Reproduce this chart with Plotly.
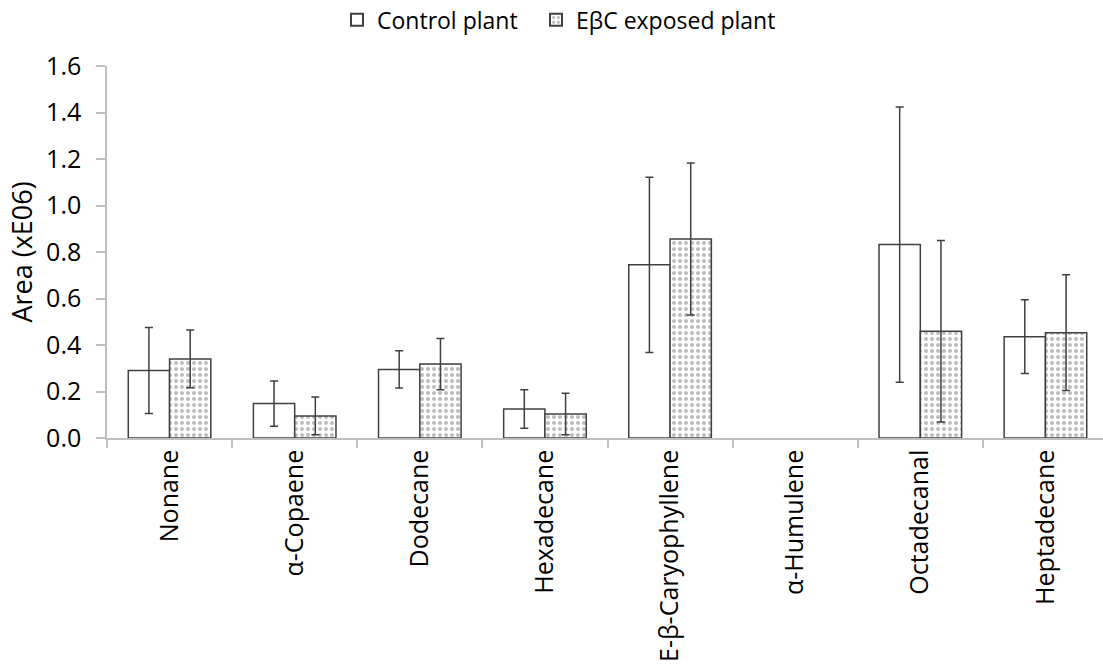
import plotly.graph_objects as go

# Volatile compounds and peak areas (x 10^6); α-Humulene was not detected
compounds = ["Nonane", "α-Copaene", "Dodecane", "Hexadecane",
             "E-β-Caryophyllene", "α-Humulene", "Octadecanal", "Heptadecane"]

control_mean = [0.29, 0.148, 0.295, 0.125, 0.745, None, 0.832, 0.436]
control_err = [0.185, 0.097, 0.08, 0.083, 0.377, None, 0.592, 0.159]

exposed_mean = [0.34, 0.095, 0.318, 0.103, 0.856, None, 0.459, 0.453]
exposed_err = [0.124, 0.081, 0.11, 0.089, 0.327, None, 0.39, 0.249]

series_names = ["Control plant", "EβC exposed plant"]
y_ticks = [0.0, 0.2, 0.4, 0.6, 0.8, 1.0, 1.2, 1.4, 1.6]

FONT = "Open Sans"
EDGE = "#404040"
AXIS = "#bfbfbf"
W, H = 1103, 664

fig = go.Figure()

fig.add_trace(go.Bar(
    name=series_names[0],
    x=compounds,
    y=control_mean,
    error_y=dict(type="data", array=control_err, visible=True,
                 color=EDGE, thickness=1.5, width=4),
    marker=dict(color="white", line=dict(color=EDGE, width=1.5)),
    legend="legend",
    showlegend=True,
))

fig.add_trace(go.Bar(
    name=series_names[1],
    x=compounds,
    y=exposed_mean,
    error_y=dict(type="data", array=exposed_err, visible=True,
                 color=EDGE, thickness=1.5, width=4),
    marker=dict(color="white", line=dict(color=EDGE, width=1.5),
                pattern=dict(shape=".", fgcolor="#7a7a7a", bgcolor="white",
                             size=6, solidity=0.35)),
    legend="legend2",
    showlegend=True,
))

# one legend box per series so the two entries can be spaced freely
legend_style = dict(
    orientation="h",
    xref="container", xanchor="left",
    yref="container", y=0.97, yanchor="middle",
    font=dict(family=FONT, size=23),
    itemwidth=30,
    itemsizing="constant",
    bgcolor="rgba(0,0,0,0)",
)

fig.update_layout(
    width=W,
    height=H,
    showlegend=True,
    barmode="group",
    bargap=0.34,
    bargroupgap=0,
    plot_bgcolor="white",
    paper_bgcolor="white",
    margin=dict(l=107, r=0, t=66, b=226),
    font=dict(family=FONT, size=24, color="#000000"),
    legend=dict(legend_style, x=337 / W, visible=True),
    legend2=dict(legend_style, x=536 / W, visible=True),
    xaxis=dict(
        range=[-0.5, 7.46],
        tickangle=-90,
        showline=True, linecolor=AXIS, linewidth=1.5,
        ticks="outside", tickson="boundaries", ticklen=8,
        tickcolor=AXIS, tickwidth=1.5,
        tickfont=dict(family=FONT, size=25),
        showgrid=False,
    ),
    yaxis=dict(
        range=[0, 1.6],
        tickvals=y_ticks,
        tickformat=".1f",
        showline=True, linecolor=AXIS, linewidth=1.5,
        ticks="outside", ticklen=9, tickcolor=AXIS, tickwidth=1.5,
        ticklabelstandoff=10,
        tickfont=dict(family=FONT, size=25),
        showgrid=False, zeroline=False,
        title=dict(text="Area (xE06)", font=dict(family=FONT, size=27),
                   standoff=6),
    ),
)

fig.write_html("out.html")
